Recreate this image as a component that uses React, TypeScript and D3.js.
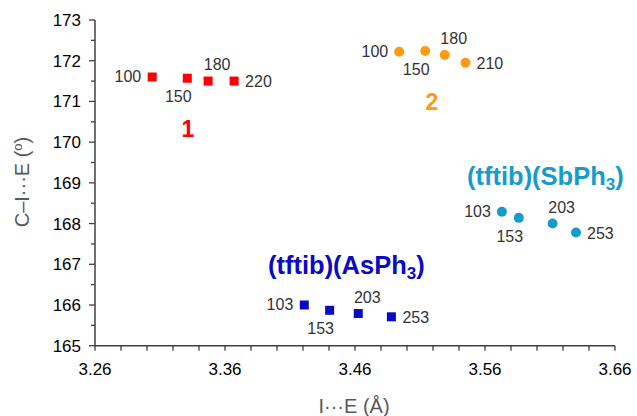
import React from 'react';
import * as d3 from 'd3';

// I···E distance (Å) and C–I···E angle (°) per compound, with temperatures (K)
const temps1 = ['100', '150', '180', '220'];
const dist1 = [3.304, 3.331, 3.347, 3.367];
const angle1 = [171.6, 171.57, 171.5, 171.5];

const temps2 = ['100', '150', '180', '210'];
const dist2 = [3.494, 3.514, 3.529, 3.545];
const angle2 = [172.22, 172.24, 172.14, 171.95];

const tempsSb = ['103', '153', '203', '253'];
const distSb = [3.573, 3.586, 3.612, 3.63];
const angleSb = [168.29, 168.14, 168.0, 167.78];

const tempsAs = ['103', '153', '203', '253'];
const distAs = [3.421, 3.4405, 3.4625, 3.488];
const angleAs = [166.0, 165.87, 165.79, 165.71];

const xTicks = [3.26, 3.36, 3.46, 3.56, 3.66];
const yTicks = [165, 166, 167, 168, 169, 170, 171, 172, 173];

// where each temperature label sits relative to its point
const labelPos = ['left', 'below', 'above', 'right'];

const W = 637;
const H = 416;
const FONT = 'Liberation Sans, Arial, sans-serif';

const x = d3.scaleLinear().domain([3.26, 3.66]).range([95, 615]);
const y = d3.scaleLinear().domain([165, 173]).range([345.7, 20]);

const series = [
  { name: '1', temps: temps1, xs: dist1, ys: angle1, color: '#FF0000', shape: 'square' },
  { name: '2', temps: temps2, xs: dist2, ys: angle2, color: '#FF9A12', shape: 'circle' },
  { name: 'Sb', temps: tempsSb, xs: distSb, ys: angleSb, color: '#169CCB', shape: 'circle' },
  { name: 'As', temps: tempsAs, xs: distAs, ys: angleAs, color: '#0A0AC4', shape: 'square' },
];

function label(pos: string, px: number, py: number) {
  if (pos === 'left') return { x: px - 11, y: py + 5, anchor: 'end' };
  if (pos === 'below') return { x: px - 9, y: py + 24, anchor: 'middle' };
  if (pos === 'above') return { x: px + 9, y: py - 11, anchor: 'middle' };
  return { x: px + 11, y: py + 6, anchor: 'start' };
}

export default function App() {
  const minorX = d3.range(3.26, 3.6601, 0.02);
  const minorY = d3.range(165, 173.01, 0.5);

  return (
    <svg width={W} height={H} style={{ position: 'absolute', left: 0, top: 0, fontFamily: FONT }}>
      <rect width={W} height={H} fill="#fff" />

      {/* axes */}
      <line x1={x(3.26)} x2={x(3.66)} y1={y(165)} y2={y(165)} stroke="#404040" strokeWidth={1.5} />
      <line x1={x(3.26)} x2={x(3.26)} y1={y(165)} y2={y(173)} stroke="#404040" strokeWidth={1.5} />
      {minorX.map((t, i) => (
        <line key={'mx' + i} x1={x(t)} x2={x(t)} y1={y(165)} y2={y(165) + 5} stroke="#404040" strokeWidth={1.3} />
      ))}
      {minorY.map((t, i) => (
        <line key={'my' + i} x1={x(3.26)} x2={x(3.26) - (i % 2 === 0 ? 6 : 4)} y1={y(t)} y2={y(t)} stroke="#404040" strokeWidth={1.3} />
      ))}
      {xTicks.map(t => (
        <text key={'xt' + t} x={x(t)} y={y(165) + 29} textAnchor="middle" fontSize={17} fill="#000">
          {d3.format('.2f')(t)}
        </text>
      ))}
      {yTicks.map(t => (
        <text key={'yt' + t} x={81} y={y(t) + 6} textAnchor="end" fontSize={17} fill="#000">
          {t}
        </text>
      ))}

      <text x={354} y={413} textAnchor="middle" fontSize={20} fill="#595959">
        I···E (Å)
      </text>
      <text transform="translate(29,182) rotate(-90)" textAnchor="middle" fontSize={20} fill="#595959">
        C–I···E (<tspan fontSize={13} dy={-7}>o</tspan><tspan dy={7}>)</tspan>
      </text>

      {/* points and temperature labels */}
      {series.map(s => (
        <g key={s.name}>
          {s.xs.map((d, i) => {
            const px = x(d);
            const py = y(s.ys[i]);
            const l = label(labelPos[i], px, py);
            return (
              <g key={i}>
                {s.shape === 'square' ? (
                  <rect x={px - 4.5} y={py - 4.5} width={9} height={9} fill={s.color} />
                ) : (
                  <circle cx={px} cy={py} r={5} fill={s.color} />
                )}
                <text x={l.x} y={l.y} textAnchor={l.anchor} fontSize={16} fill="#333">
                  {s.temps[i]}
                </text>
              </g>
            );
          })}
        </g>
      ))}

      {/* compound names */}
      <text x={188} y={137} textAnchor="middle" fontSize={23} fontWeight="bold" fill="#FF0000">1</text>
      <text x={432} y={110} textAnchor="middle" fontSize={23} fontWeight="bold" fill="#FF9A12">2</text>
      <text x={467} y={185} fontSize={25.5} fontWeight="bold" fill="#169CCB">
        (tftib)(SbPh<tspan fontSize={17} dy={5}>3</tspan><tspan dy={-5}>)</tspan>
      </text>
      <text x={268} y={274} fontSize={25.5} fontWeight="bold" fill="#0A0AC4">
        (tftib)(AsPh<tspan fontSize={17} dy={5}>3</tspan><tspan dy={-5}>)</tspan>
      </text>
    </svg>
  );
}
